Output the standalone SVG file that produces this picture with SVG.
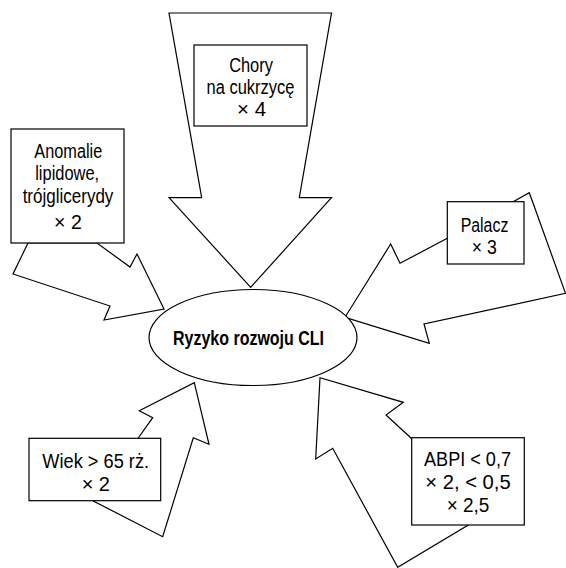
<svg xmlns="http://www.w3.org/2000/svg" width="566" height="568" viewBox="0 0 566 568">
<style>
.ar{fill:#fff;stroke:#000;stroke-width:1.2;stroke-linejoin:miter}
.bx{fill:#fff;stroke:#000;stroke-width:1.2}
.t{font-family:"Liberation Sans",Arial,sans-serif;font-size:20px;fill:#000;text-anchor:middle}
.b{font-family:"Liberation Sans",Arial,sans-serif;font-size:21px;font-weight:bold;fill:#000;text-anchor:middle}
</style>
<rect width="566" height="568" fill="#fff"/>
<g id="connectors">
<polygon class="ar" points="169,13 331.5,13 299.3,197.7 331.5,197.7 250.7,287.3 169,197.7 201.7,197.7"/>
<polygon class="ar" points="28,243 13,274 110,306 104,320 164,309 137,254 130,267 97,243"/>
<polygon class="ar" points="447.3,238.3 400,263.3 390.7,244 345,317.3 429.3,343.3 424,324 565.5,293.3 529.3,192.7 512.7,202"/>
<polygon class="ar" points="138.3,438 152.7,417.7 139.3,410.7 194.3,382.7 209,444.3 193.3,437.7 162.7,536.7 93.3,501"/>
<polygon class="ar" points="411,438 386,415 403.3,402.3 320,377.7 315.7,459 332.7,448.3 397.7,567.3 468.3,525"/>
</g>
<g id="center">
<ellipse class="bx" cx="253" cy="337.5" rx="104" ry="48"/>
<text class="b" x="248.5" y="345" textLength="151" lengthAdjust="spacingAndGlyphs">Ryzyko rozwoju CLI</text>
</g>
<g id="diabetes">
<rect class="bx" x="194" y="45" width="113" height="81"/>
<text class="t" x="251" y="71.7" textLength="43.7" lengthAdjust="spacingAndGlyphs">Chory</text>
<text class="t" x="250.5" y="94" textLength="88" lengthAdjust="spacingAndGlyphs">na cukrzycę</text>
<text class="t" x="251.5" y="116" textLength="29" lengthAdjust="spacingAndGlyphs">× 4</text>
</g>
<g id="lipids">
<rect class="bx" x="11" y="129" width="113" height="114"/>
<text class="t" x="68.3" y="157.7" textLength="68" lengthAdjust="spacingAndGlyphs">Anomalie</text>
<text class="t" x="67.2" y="180" textLength="64" lengthAdjust="spacingAndGlyphs">lipidowe,</text>
<text class="t" x="68" y="202.7" textLength="90.7" lengthAdjust="spacingAndGlyphs">trójglicerydy</text>
<text class="t" x="67.9" y="228.7" textLength="27.7" lengthAdjust="spacingAndGlyphs">× 2</text>
</g>
<g id="smoker">
<rect class="bx" x="447.3" y="201.7" width="76.7" height="62.3"/>
<text class="t" x="484.5" y="231.7" textLength="47.7" lengthAdjust="spacingAndGlyphs">Palacz</text>
<text class="t" x="484.2" y="254" textLength="25" lengthAdjust="spacingAndGlyphs">× 3</text>
</g>
<g id="age">
<rect class="bx" x="29" y="438.3" width="131.7" height="62.4"/>
<text class="t" x="95.7" y="468.3" textLength="106.7" lengthAdjust="spacingAndGlyphs">Wiek &gt; 65 rż.</text>
<text class="t" x="95.8" y="491" textLength="28.3" lengthAdjust="spacingAndGlyphs">× 2</text>
</g>
<g id="abpi">
<rect class="bx" x="411.7" y="437.7" width="112.6" height="87.3"/>
<text class="t" x="467.5" y="466" textLength="87" lengthAdjust="spacingAndGlyphs">ABPI &lt; 0,7</text>
<text class="t" x="468" y="488.7" textLength="85.3" lengthAdjust="spacingAndGlyphs">× 2, &lt; 0,5</text>
<text class="t" x="468" y="511.7" textLength="42.7" lengthAdjust="spacingAndGlyphs">× 2,5</text>
</g>
</svg>
